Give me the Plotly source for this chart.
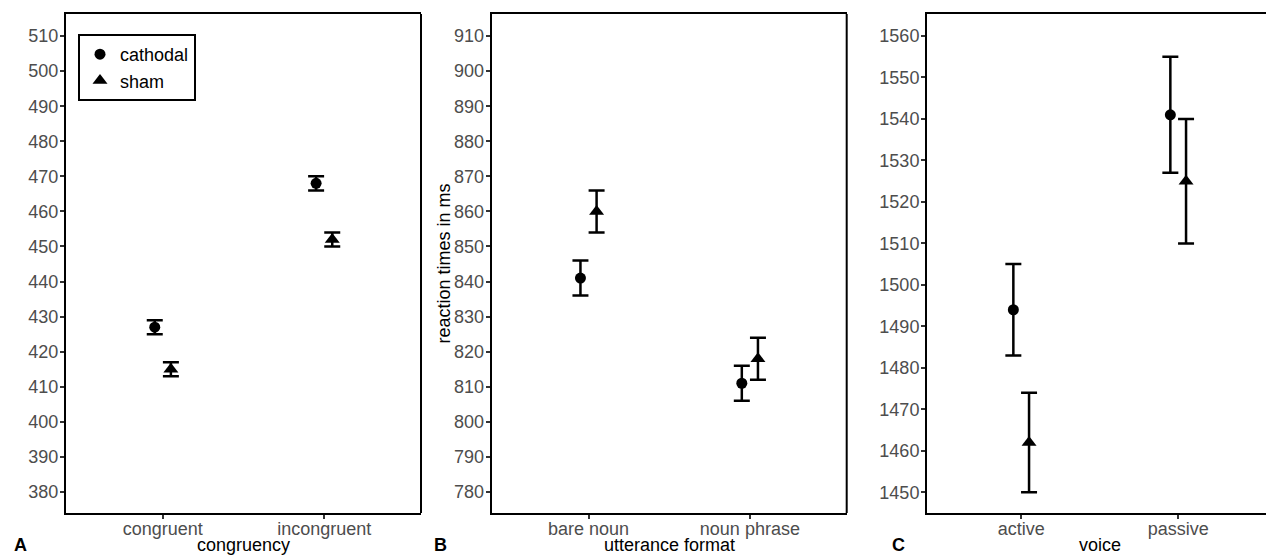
import plotly.graph_objects as go

# ---- data ----
cats_a = ["congruent", "incongruent"]
cath_a = [427, 468]
cath_a_err = [2, 2]
sham_a = [415, 452]
sham_a_err = [2, 2]

cats_b = ["bare noun", "noun phrase"]
cath_b = [841, 811]
cath_b_err = [5, 5]
sham_b = [860, 818]
sham_b_err = [6, 6]

cats_c = ["active", "passive"]
cath_c = [1494, 1541]
cath_c_err = [11, 14]
sham_c = [1462, 1525]
sham_c_err = [12, 15]

xtitles = ["congruency", "utterance format", "voice"]
letters = ["A", "B", "C"]
yranges = [[374, 516.3], [774, 916.3], [1445, 1565.3]]
ytick_start = [380, 780, 1450]
ytick_end = [510, 910, 1560]

W, H = 1266, 556
T = 14
BOT = 513
B = H - BOT
PH = H - T - B
FONT = "Liberation Sans, Arial, sans-serif"
dodge = 0.05

def px(xp):
    return xp / W

def py(yp):
    return (BOT - yp) / PH

fig = go.Figure()

panels = [
    (cats_a, cath_a, cath_a_err, sham_a, sham_a_err),
    (cats_b, cath_b, cath_b_err, sham_b, sham_b_err),
    (cats_c, cath_c, cath_c_err, sham_c, sham_c_err),
]
domains = [[px(66), px(421)], [px(491.7), px(846.7)], [px(927), 1.0]]
xranges = [[0.4, 2.6], [0.4, 2.6], [0.4, 0.4 + (1266 - 927) / 157.0]]

for i, (cats, cm, ce, sm, se) in enumerate(panels):
    xa = "x" if i == 0 else f"x{i+1}"
    ya = "y" if i == 0 else f"y{i+1}"
    pos = list(range(1, len(cats) + 1))
    fig.add_trace(go.Scatter(
        x=[p - dodge for p in pos], y=cm, mode="markers", name="cathodal",
        marker=dict(symbol="circle", size=11, color="black"),
        error_y=dict(type="data", array=ce, visible=True, color="black", thickness=2.5, width=8),
        xaxis=xa, yaxis=ya, showlegend=(i == 0), legendgroup="cathodal"))
    fig.add_trace(go.Scatter(
        x=[p + dodge for p in pos], y=sm, mode="markers", name="sham",
        marker=dict(symbol="triangle-up", size=13, color="black"),
        error_y=dict(type="data", array=se, visible=True, color="black", thickness=2.5, width=8),
        xaxis=xa, yaxis=ya, showlegend=(i == 0), legendgroup="sham"))

    axkey = "xaxis" if i == 0 else f"xaxis{i+1}"
    aykey = "yaxis" if i == 0 else f"yaxis{i+1}"
    fig.layout[axkey] = dict(
        domain=domains[i], range=xranges[i], anchor=ya, automargin=False,
        tickvals=pos, ticktext=cats, ticks="outside", ticklen=4, tickwidth=2,
        tickcolor="#333333", showline=True, linecolor="black", linewidth=2,
        mirror=True, showgrid=False, zeroline=False, ticklabelstandoff=-6,
        tickfont=dict(family=FONT, size=18, color="#4D4D4D"),
    )
    fig.layout[aykey] = dict(
        domain=[0, 1], range=yranges[i], anchor=xa, automargin=False,
        tickvals=list(range(ytick_start[i], ytick_end[i] + 1, 10)),
        ticks="outside", ticklen=4, tickwidth=2, tickcolor="#333333",
        showline=True, linecolor="black", linewidth=2, mirror=False,
        showgrid=False, zeroline=False, ticklabelstandoff=-2,
        tickfont=dict(family=FONT, size=18, color="#4D4D4D"),
    )

# x-axis titles centred under each full panel width
title_cx = [(66 + 421) / 2, (491.7 + 846.7) / 2, 927 + 1.1 * 157]
for i, t in enumerate(xtitles):
    fig.add_annotation(text=t, xref="paper", yref="paper", x=px(title_cx[i]), y=py(545),
                       xanchor="center", yanchor="middle", showarrow=False,
                       font=dict(family=FONT, size=18, color="black"))

fig.add_annotation(text="reaction times in ms", xref="paper", yref="paper",
                   x=px(443), y=0.5, textangle=-90, xanchor="center", yanchor="middle",
                   showarrow=False, font=dict(family=FONT, size=18, color="black"))

# panel right borders for A and B (C is cut off at the page edge)
for i in range(2):
    xa = "x" if i == 0 else f"x{i+1}"
    fig.add_shape(type="line", xref=f"{xa} domain", yref="paper", x0=1, x1=1, y0=0, y1=1,
                  line=dict(color="black", width=2))

letter_x = [12, 432, 890]
for i, t in enumerate(letters):
    fig.add_annotation(text=t, xref="paper", yref="paper", x=px(letter_x[i]), y=py(545),
                       xanchor="left", yanchor="middle", showarrow=False,
                       font=dict(family=FONT, size=18, color="black", weight="bold"))

fig.update_layout(
    width=W, height=H,
    margin=dict(l=0, r=0, t=T, b=B, autoexpand=False),
    paper_bgcolor="white", plot_bgcolor="white",
    legend=dict(x=px(78), y=py(34), xanchor="left", yanchor="top",
                bordercolor="black", borderwidth=2, bgcolor="white",
                font=dict(family=FONT, size=18, color="black"),
                tracegroupgap=0, itemwidth=30),
)

fig.write_html("out.html", config={"displayModeBar": False},
               post_script="document.body.style.margin='0';document.body.style.overflow='hidden';")
